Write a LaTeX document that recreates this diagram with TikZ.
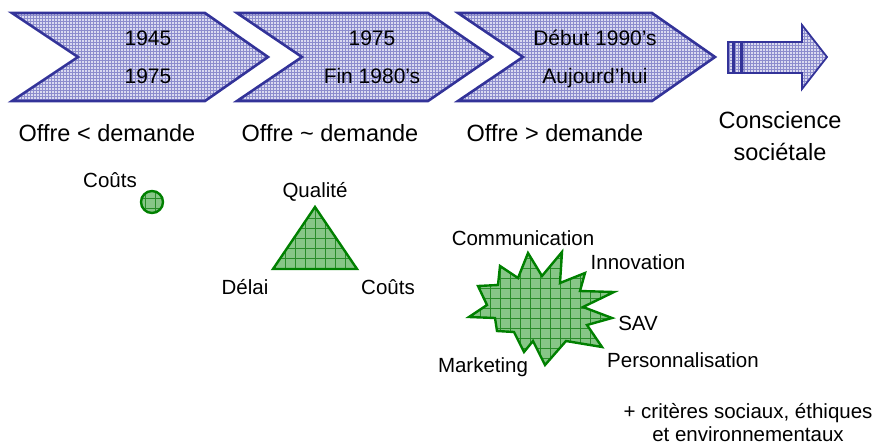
\documentclass[tikz,border=0pt]{standalone}
\usepackage{fontspec}
\setmainfont{Liberation Sans}
\usetikzlibrary{patterns}
\definecolor{chevblue}{RGB}{51,51,153}
\definecolor{chevfill}{RGB}{218,218,240}
\definecolor{chevgrid}{RGB}{140,140,205}
\definecolor{gborder}{RGB}{0,128,0}
\definecolor{gfill}{RGB}{135,198,135}
\definecolor{ggrid}{RGB}{40,140,40}
\begin{document}
\begin{tikzpicture}[x=1pt,y=-1pt,
  chev/.style={draw=chevblue, line width=2.6pt, line join=miter, preaction={fill=chevfill}, pattern=grid, pattern color=chevgrid},
  arrowshape/.style={draw=chevblue, line width=1.8pt, line join=miter, preaction={fill=chevfill}, pattern=grid, pattern color=chevgrid},
  greenshape/.style={draw=gborder, line width=2.4pt, line join=miter},
  gridline/.style={draw=ggrid, line width=0.8pt},
  datetext/.style={font=\fontsize{21}{25}\selectfont, inner sep=0pt, text height=15pt, text depth=0pt},
  headtext/.style={font=\fontsize{23.5}{28}\selectfont, inner sep=0pt, text height=16.9pt, text depth=0pt},
  lbl/.style={font=\fontsize{20.5}{24}\selectfont, inner sep=0pt, text height=14.7pt, text depth=0pt},
  sepdot/.style={fill=gray!70}
]
\useasboundingbox (0,0) rectangle (877,444);

% chevrons
\path[chev] (12,13) -- (205,13) -- (268,57) -- (205,101) -- (12,101) -- (78,57) -- cycle;
\path[chev] (237,13) -- (428,13) -- (492,57) -- (428,101) -- (237,101) -- (302,57) -- cycle;
\path[chev] (458,13) -- (652,13) -- (715,57) -- (652,101) -- (458,101) -- (523,57) -- cycle;

% striped arrow
\path[arrowshape] (728,42) rectangle (733,73);
\path[arrowshape] (734.5,42) rectangle (741,73);
\path[arrowshape] (742.5,42) -- (802,42) -- (802,25) -- (827,57) -- (802,89) -- (802,73) -- (742.5,73) -- cycle;

% chevron texts
\node[datetext] (c1a) at (148,38) {1945};
\node[datetext] (c1b) at (148,76) {1975};
\node[datetext] (c2a) at (372,38) {1975};
\node[datetext] (c2b) at (372,76) {Fin 1980’s};
\node[datetext] (c3a) at (595,38) {Début 1990’s};
\node[datetext] (c3b) at (595,76) {Aujourd’hui};
\fill[sepdot] (148,57) circle (0.8);
\fill[sepdot] (372,57) circle (0.8);
\fill[sepdot] (595,57) circle (0.8);

% headings
\node[headtext] (h1) at (107,133) {Offre < demande};
\node[headtext] (h2) at (330,133) {Offre \textasciitilde\ demande};
\node[headtext] (h3) at (555,133) {Offre > demande};
\node[headtext] (h4a) at (780,120) {Conscience};
\node[headtext] (h4b) at (780,152) {sociétale};

% circle
\fill[gfill] (152,202) circle (11);
\begin{scope}
  \clip (152,202) circle (11);
  \draw[gridline] (145,190) -- (145,214);
  \draw[gridline] (155,190) -- (155,214);
  \draw[gridline] (140,198) -- (164,198);
  \draw[gridline] (140,208) -- (164,208);
\end{scope}
\draw[greenshape] (152,202) circle (11);
\node[lbl] (k1) at (110,180) {Coûts};

% triangle
\fill[gfill] (315,207) -- (357,269) -- (273,269) -- cycle;
\begin{scope}
  \clip (315,207) -- (357,269) -- (273,269) -- cycle;
  \foreach \gx in {275,285,...,355} \draw[gridline] (\gx,200) -- (\gx,275);
  \foreach \gy in {208,218,...,268} \draw[gridline] (265,\gy) -- (365,\gy);
\end{scope}
\draw[greenshape] (315,207) -- (357,269) -- (273,269) -- cycle;
\node[lbl] (q) at (315,190) {Qualité};
\node[lbl] (d) at (245,287) {Délai};
\node[lbl] (k2) at (388,287) {Coûts};

% starburst
\def\burst{(528,253) -- (542,276) -- (562,252) -- (560,283) -- (585,273) -- (580,291) -- (614,292) -- (583,307) -- (612,318) -- (587,325) -- (602,347) -- (566,341) -- (545,365) -- (533,341) -- (524,352) -- (514,332) -- (497,331) -- (495,318) -- (469,317) -- (487,305) -- (478,286) -- (498,285) -- (500,266) -- (518,278) -- cycle}
\fill[gfill] \burst;
\begin{scope}
  \clip \burst;
  \foreach \gx in {470,480,...,610} \draw[gridline] (\gx,245) -- (\gx,370);
  \foreach \gy in {258,268,...,368} \draw[gridline] (460,\gy) -- (620,\gy);
\end{scope}
\draw[greenshape] \burst;
\node[lbl] (s1) at (523,238) {Communication};
\node[lbl] (s2) at (638,262) {Innovation};
\node[lbl] (s3) at (638,323) {SAV};
\node[lbl] (s4) at (683,360) {Personnalisation};
\node[lbl] (s5) at (483,365) {Marketing};

% bottom text
\node[lbl] (b1) at (748,411) {+ critères sociaux, éthiques};
\node[lbl] (b2) at (748,434) {et environnementaux};
\end{tikzpicture}
\end{document}
